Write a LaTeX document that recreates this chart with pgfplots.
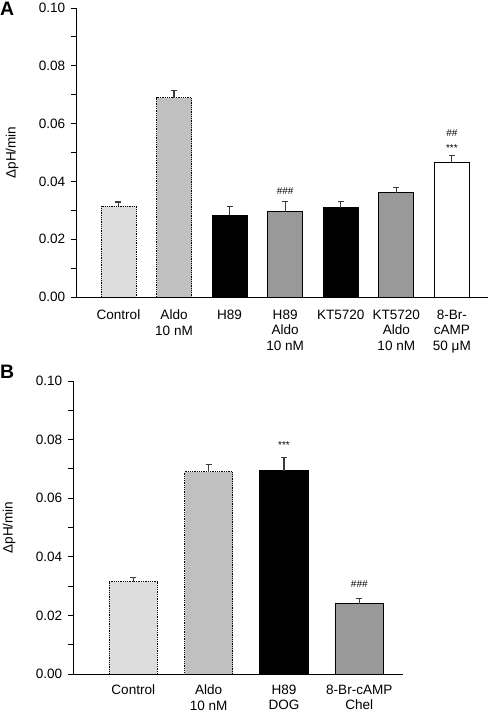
\documentclass[border=0pt]{standalone}
\usepackage{pgfplots}
\pgfplotsset{compat=1.18}
\usepackage{fontspec}
\setmainfont{Liberation Sans}
\definecolor{cLight}{RGB}{221,221,221}
\definecolor{cMid}{RGB}{192,192,192}
\definecolor{cGray}{RGB}{153,153,153}
\definecolor{cErr}{RGB}{60,60,60}
\pgfplotsset{
  panel/.style={
    scale only axis,
    ymin=0, ymax=0.1,
    axis x line*=bottom, axis y line*=left,
    axis line style={line width=0.8pt},
    ytick={0,0.02,0.04,0.06,0.08,0.1},
    minor ytick={0.01,0.03,0.05,0.07,0.09},
    tick align=outside,
    major tick length=5bp, minor tick length=5bp,
    every tick/.style={black, line width=0.8pt},
    minor tick style={black, line width=0.8pt},
    /pgf/number format/assume math mode=true,
    yticklabel style={/pgf/number format/fixed, /pgf/number format/fixed zerofill, /pgf/number format/precision=2, xshift=-1bp},
    xtick style={draw=none},
    xticklabel style={align=center, yshift=-3bp},
    extra x tick style={tick style={draw=black, line width=0.8pt}, major tick length=4bp},
    extra x tick labels={},
    every axis y label/.style={at={(axis description cs:0,0.5)}, rotate=90, anchor=center, yshift=64bp},
    ylabel={ΔpH/min},
    clip=false,
  },
  bb/.style={ybar, bar shift=0pt, line width=0.8pt,
    error bars/y dir=plus, error bars/y explicit,
    error bars/error bar style={line width=1.2pt, color=cErr, solid},
    error bars/error mark options={rotate=90, mark size=3bp, line width=1.2pt, color=cErr, solid}},
  dotb/.style={draw=black, densely dotted},
  solb/.style={draw=black},
}
\newcommand\annfont{\fontsize{10}{10}\selectfont}
\begin{document}
\fontsize{13.6}{15.6}\selectfont
\begin{tikzpicture}
\useasboundingbox (0,0) rectangle (490bp,712bp);
\node[anchor=north west, inner sep=0pt, font=\fontsize{19.5}{20}\selectfont\bfseries] at (0bp,710bp) {A};
\node[anchor=north west, inner sep=0pt, font=\fontsize{19.5}{20}\selectfont\bfseries] at (0bp,347bp) {B};
% Panel A
\begin{axis}[panel, at={(76bp,415bp)}, anchor=south west,
  width=412bp, height=289bp, xmin=-0.764, xmax=6.65,
  xtick={0,1,2,3,4,5,6},
  xticklabels={Control, Aldo\\10 nM, H89, H89\\Aldo\\10 nM, KT5720, KT5720\\Aldo\\10 nM, 8-Br-\\cAMP\\50 μM},
  extra x ticks={-0.764,6.65},
  bar width=0.63]
\addplot[bb, fill=cLight, dotb] coordinates {(0,0.0315) +- (0,0.0014)};
\addplot[bb, fill=cMid, dotb] coordinates {(1,0.0690) +- (0,0.0024)};
\addplot[bb, fill=black, solb] coordinates {(2,0.0283) +- (0,0.0030)};
\addplot[bb, fill=cGray, solb] coordinates {(3,0.0295) +- (0,0.0035)};
\addplot[bb, fill=black, solb] coordinates {(4,0.0309) +- (0,0.0021)};
\addplot[bb, fill=cGray, solb] coordinates {(5,0.0361) +- (0,0.0017)};
\addplot[bb, fill=white, solb] coordinates {(6,0.0466) +- (0,0.0023)};
\node[font=\annfont] at (axis cs:3,0.0368) {\#\#\#};
\node[font=\annfont] at (axis cs:6,0.0516) {***};
\node[font=\annfont] at (axis cs:6,0.0567) {\#\#};
\end{axis}
% Panel B
\begin{axis}[panel, at={(73bp,38bp)}, anchor=south west,
  width=330bp, height=293bp, xmin=-0.80, xmax=3.58,
  xtick={0,1,2,3},
  xticklabels={Control, Aldo\\10 nM, H89\\DOG, 8-Br-cAMP\\Chel},
  xticklabel style={yshift=2bp},
  extra x ticks={-0.80,3.58},
  bar width=0.64]
\addplot[bb, fill=cLight, dotb] coordinates {(0,0.0315) +- (0,0.0013)};
\addplot[bb, fill=cMid, dotb] coordinates {(1,0.0690) +- (0,0.0024)};
\addplot[bb, fill=black, solb] coordinates {(2,0.0694) +- (0,0.0046)};
\addplot[bb, fill=cGray, solb] coordinates {(3,0.0240) +- (0,0.0017)};
\node[font=\annfont] at (axis cs:2,0.0783) {***};
\node[font=\annfont] at (axis cs:3,0.0308) {\#\#\#};
\end{axis}
\end{tikzpicture}
\end{document}
